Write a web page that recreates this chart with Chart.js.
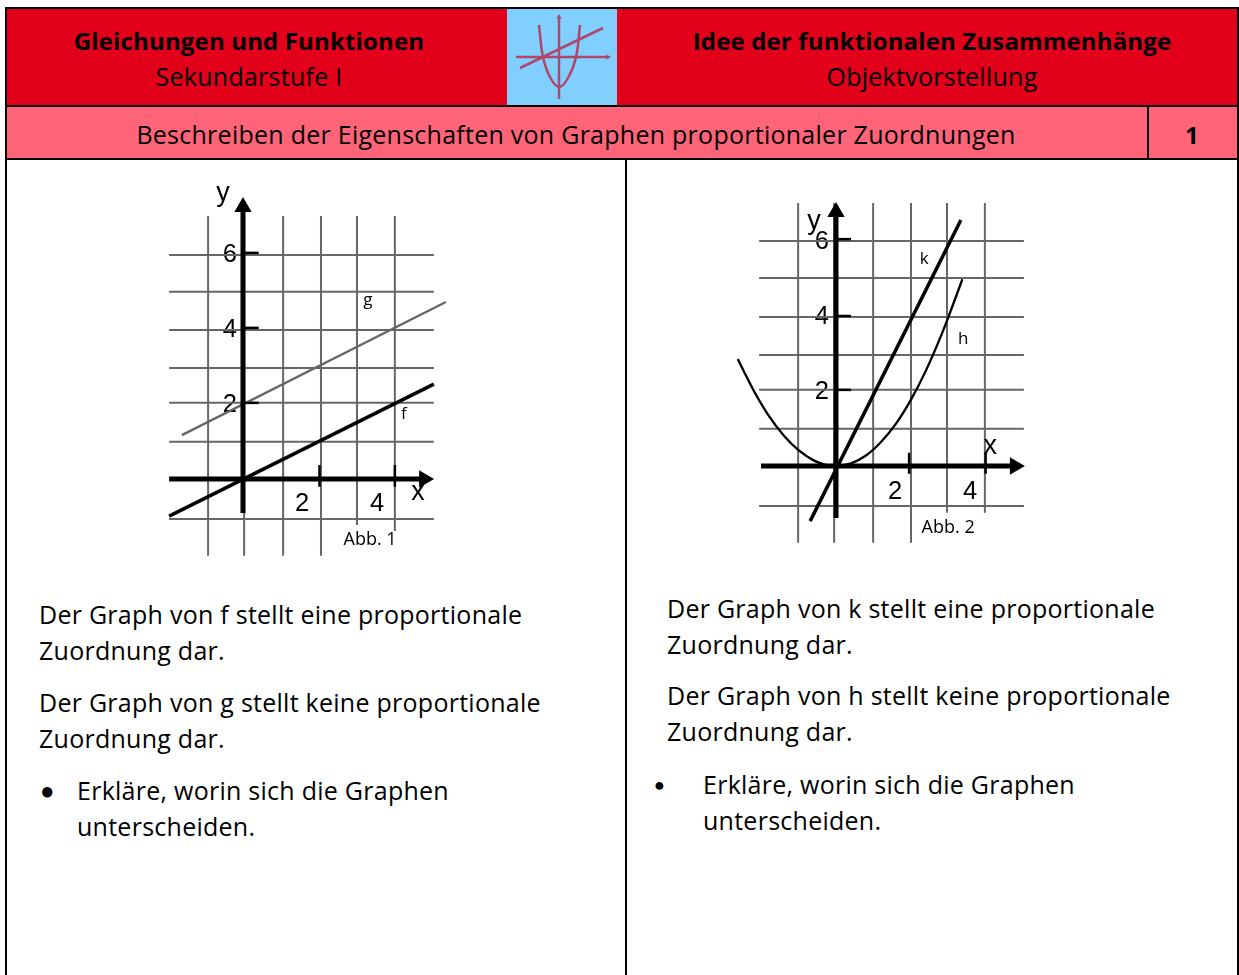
<!DOCTYPE html>
<html lang="de">
<head>
<meta charset="UTF-8">
<title>Beschreiben der Eigenschaften von Graphen proportionaler Zuordnungen</title>
<script src="https://cdn.jsdelivr.net/npm/chart.js"></script>
<style>
    html, body { margin: 0; padding: 0; background: #fff; overflow: hidden; }
    body { width: 1239px; height: 975px; position: relative; font-family: "Open Sans", sans-serif; color: #000; }
    .box { position: absolute; }
    .line { position: absolute; background: #000; }
    .t { position: absolute; white-space: nowrap; font-size: 25px; line-height: 36px; height: 36px; letter-spacing: 0.26px; }
    .c { transform: translateX(-50%); text-align: center; }
    .b { font-weight: 700; font-size: 24px; letter-spacing: 0.15px; }
    canvas { position: absolute; }
</style>
</head>
<body>
    <!-- header bands -->
    <div class="box" style="left:7px;top:9px;width:500px;height:97px;background:#E2001A"></div>
    <div class="box" style="left:507px;top:9px;width:110px;height:97px;background:#80CFFF"></div>
    <div class="box" style="left:617px;top:9px;width:620px;height:97px;background:#E2001A"></div>
    <div class="box" style="left:7px;top:107px;width:1230px;height:51px;background:#FF6478"></div>

    <!-- borders -->
    <div class="line" style="left:5px;top:7px;width:1234px;height:2px"></div>
    <div class="line" style="left:5px;top:7px;width:2px;height:968px"></div>
    <div class="line" style="left:1237px;top:7px;width:2px;height:968px"></div>
    <div class="line" style="left:5px;top:105px;width:1234px;height:2px"></div>
    <div class="line" style="left:5px;top:158px;width:1234px;height:2px"></div>
    <div class="line" style="left:1147px;top:107px;width:2px;height:52px"></div>
    <div class="line" style="left:625px;top:160px;width:2px;height:815px"></div>

    <div class="t c b" style="left:249px;top:23px">Gleichungen und Funktionen</div>
    <div class="t c" style="left:249px;top:58px">Sekundarstufe I</div>
    <div class="t c b" style="left:932px;top:23px">Idee der funktionalen Zusammenhänge</div>
    <div class="t c" style="left:932px;top:58px">Objektvorstellung</div>
    <div class="t c" style="left:576px;top:116px">Beschreiben der Eigenschaften von Graphen proportionaler Zuordnungen</div>
    <div class="t c b" style="left:1192px;top:117px">1</div>

    <canvas id="logo" width="110" height="97" style="left:507px;top:9px"></canvas>
    <canvas id="fig1" width="300" height="390" style="left:160px;top:180px"></canvas>
    <canvas id="fig2" width="310" height="370" style="left:730px;top:190px"></canvas>

    <div class="t" style="left:39px;top:596px">Der Graph von f stellt eine proportionale</div>
    <div class="t" style="left:39px;top:632px">Zuordnung dar.</div>
    <div class="t" style="left:39px;top:684px">Der Graph von g stellt keine proportionale</div>
    <div class="t" style="left:39px;top:720px">Zuordnung dar.</div>
    <div class="t" style="left:40px;top:772px;font-size:24px">●</div>
    <div class="t" style="left:77px;top:772px">Erkläre, worin sich die Graphen</div>
    <div class="t" style="left:77px;top:808px">unterscheiden.</div>

    <div class="t" style="left:654px;top:766px;font-size:18px">●</div>
    <div class="t" style="left:667px;top:590px">Der Graph von k stellt eine proportionale</div>
    <div class="t" style="left:667px;top:626px">Zuordnung dar.</div>
    <div class="t" style="left:667px;top:677px">Der Graph von h stellt keine proportionale</div>
    <div class="t" style="left:667px;top:713px">Zuordnung dar.</div>
    <div class="t" style="left:703px;top:766px">Erkläre, worin sich die Graphen</div>
    <div class="t" style="left:703px;top:802px">unterscheiden.</div>

<script>
    // Abb. 1
    const fig1GridX = [-0.93, 0.03, 1.07, 2.08, 3.04, 4.05];
    const fig1GridXBottom = [-2.05, -2.05, -2.05, -2.05, -1.23, -1.39];
    const fig1GridY = [5.97, 4.99, 3.97, 2.96, 2.03, 0.99, -1.07];
    const fig1LineF = [[-1.97, -0.99], [5.09, 2.53]];
    const fig1LineG = [[-1.63, 1.17], [5.41, 4.72]];
    const fig1TicksX = [2.04, 4.05];
    const fig1TicksY = [6.03, 4.03, 2.03];
    const fig1TickLabelsX = [2, 4];
    const fig1TickLabelsY = [2, 4, 6];

    // Abb. 2
    const fig2GridX = [-1.01, -0.05, 0.99, 2.0, 2.96, 3.97];
    const fig2GridXBottom = [-2.05, -2.05, -2.05, -2.05, -1.25, -1.25];
    const fig2GridY = [6.0, 5.01, 3.97, 2.96, 2.03, 0.99, -1.07];
    const fig2LineK = [[-0.69, -1.47], [3.33, 6.56]];
    const fig2CurveHx = [-2.62, -2.2, -1.8, -1.4, -1.0, -0.6, -0.3, 0, 0.4, 0.8, 1.2, 1.6, 2.0, 2.4, 2.8, 3.0, 3.37];
    const fig2CurveHy = [2.85, 2.02, 1.35, 0.82, 0.42, 0.15, 0.04, 0, 0.07, 0.28, 0.64, 1.13, 1.77, 2.55, 3.47, 3.98, 4.98];
    const fig2TicksX = [1.95, 3.99];
    const fig2TicksY = [6.05, 4.0, 2.03];
    const fig2TickLabelsX = [2, 4];
    const fig2TickLabelsY = [2, 4, 6];

    // small icon in the header
    const logoCurveX = [-20, -16, -9, 0, 9, 17, 21];
    const logoCurveY = [32, 0, -20, -30, -21, 0, 32];
    const logoLine = [[-39, -11], [44, 29]];

    const GRID = "#666666";
    const ARIAL = '"Liberation Sans", Arial, sans-serif';
    const BODY = '"Open Sans", sans-serif';

    // draws the free text that sits inside the plots (names of the graphs etc)
    const notesPlugin = {
        id: "notes",
        afterDatasetsDraw(chart, args, opts) {
            const ctx = chart.ctx;
            ctx.save();
            ctx.fillStyle = "#000";
            ctx.textAlign = "center";
            ctx.textBaseline = "middle";
            (opts.items || []).forEach(n => {
                ctx.font = n.font;
                ctx.fillText(n.text, chart.scales.x.getPixelForValue(n.x), chart.scales.y.getPixelForValue(n.y));
            });
            ctx.restore();
        }
    };

    function seg(points, color, width, order) {
        return {
            data: points.map(p => ({ x: p[0], y: p[1] })),
            showLine: true,
            borderColor: color,
            borderWidth: width,
            pointRadius: 0,
            order: order
        };
    }

    function arrow(from, to, rotation, color, width, size) {
        const d = seg([from, to], color, width, 1);
        d.pointStyle = "triangle";
        d.pointRadius = [0, size];
        d.pointRotation = [0, rotation];
        d.pointBackgroundColor = color;
        d.pointBorderColor = color;
        d.pointBorderWidth = 0;
        return d;
    }

    function gridLines(xs, bottoms, ys, top, left, right) {
        const out = [];
        xs.forEach((x, i) => out.push(seg([[x, bottoms[i]], [x, top]], GRID, 2, 5)));
        ys.forEach(y => out.push(seg([[left, y], [right, y]], GRID, 2, 5)));
        return out;
    }

    function axisOptions(labels, position, min, max, extra) {
        return Object.assign({
            type: "linear",
            min: min,
            max: max,
            position: position,
            border: { display: false },
            grid: { display: false, drawTicks: false },
            afterBuildTicks: scale => { scale.ticks = labels.map(v => ({ value: v })); },
            // the axes cross inside the plot, so they must not eat into the chart area
            afterFit: scale => {
                scale.width = 0;
                scale.height = 0;
                scale.paddingLeft = scale.paddingRight = scale.paddingTop = scale.paddingBottom = 0;
            }
        }, extra);
    }

    function figure(id, datasets, notes, xOpts, yOpts) {
        new Chart(document.getElementById(id), {
            type: "scatter",
            data: { datasets: datasets },
            plugins: [notesPlugin],
            options: {
                responsive: false,
                animation: false,
                layout: { padding: 0, autoPadding: false },
                scales: { x: xOpts, y: yOpts },
                plugins: { legend: { display: false }, tooltip: { enabled: false }, notes: { items: notes } }
            }
        });
    }

    const tickFont = { family: ARIAL, size: 25.5 };
    const smallFont = "17px " + BODY;
    const abbFont = "18px " + BODY;

    figure("fig1",
        [
            ...gridLines(fig1GridX, fig1GridXBottom, fig1GridY, 7.01, -1.97, 5.09),
            seg(fig1LineG, "#666666", 2.3, 3),
            seg(fig1LineF, "#000000", 3.5, 3),
            ...fig1TicksX.map(x => seg([[x, 0.37], [x, -0.21]], "#000000", 2.5, 2)),
            ...fig1TicksY.map(y => seg([[0, y], [0.42, y]], "#000000", 2.5, 2)),
            arrow([-1.97, 0], [4.83, 0], 90, "#000000", 5, 10),
            arrow([0, -0.91], [0, 7.25], 0, "#000000", 5, 10)
        ],
        [
            { text: "y", x: -0.53, y: 7.6, font: "27px " + ARIAL },
            { text: "x", x: 4.67, y: -0.37, font: "27px " + ARIAL },
            { text: "g", x: 3.33, y: 4.77, font: smallFont },
            { text: "f", x: 4.29, y: 1.72, font: smallFont },
            { text: "Abb. 1", x: 3.39, y: -1.63, font: abbFont }
        ],
        axisOptions(fig1TickLabelsX, { y: 0 }, -2.213, 5.787, { ticks: { font: tickFont, color: "#000", padding: 10, labelOffset: -16, maxRotation: 0 } }),
        axisOptions(fig1TickLabelsY, { x: -0.16 }, -2.427, 7.973, { ticks: { font: tickFont, color: "#000", labelOffset: 1 } })
    );

    figure("fig2",
        [
            ...gridLines(fig2GridX, fig2GridXBottom, fig2GridY, 7.01, -2.05, 5.01),
            Object.assign(seg(fig2CurveHx.map((x, i) => [x, fig2CurveHy[i]]), "#000000", 2.3, 3), { tension: 0.4 }),
            seg(fig2LineK, "#000000", 3.5, 3),
            ...fig2TicksX.map(x => seg([[x, 0.35], [x, -0.21]], "#000000", 2.5, 2)),
            ...fig2TicksY.map(y => seg([[0, y], [0.4, y]], "#000000", 2.5, 2)),
            arrow([-2.0, 0], [4.77, 0], 90, "#000000", 5, 10),
            arrow([0, -1.39], [0, 6.77], 0, "#000000", 5, 10)
        ],
        [
            { text: "y", x: -0.59, y: 6.53, font: "27px " + ARIAL },
            { text: "x", x: 4.11, y: 0.53, font: "27px " + ARIAL },
            { text: "k", x: 2.35, y: 5.52, font: smallFont },
            { text: "h", x: 3.39, y: 3.39, font: smallFont },
            { text: "Abb. 2", x: 2.99, y: -1.65, font: abbFont }
        ],
        axisOptions(fig2TickLabelsX, { y: 0 }, -2.827, 5.44, { ticks: { font: tickFont, color: "#000", padding: 11, labelOffset: -16, maxRotation: 0 } }),
        axisOptions(fig2TickLabelsY, { x: -0.19 }, -2.507, 7.36, { ticks: { font: tickFont, color: "#000", labelOffset: 1 } })
    );

    const LOGO = "#B0466A";
    figure("logo",
        [
            arrow([-43, 0], [49, 0], 90, LOGO, 2.5, 3),
            arrow([0, -42], [0, 40], 0, LOGO, 2.5, 3),
            seg(logoLine, LOGO, 2.5, 2),
            Object.assign(seg(logoCurveX.map((x, i) => [x, logoCurveY[i]]), LOGO, 2.5, 2), { tension: 0.4 })
        ],
        [],
        { type: "linear", min: -52, max: 58, display: false },
        { type: "linear", min: -49, max: 48, display: false }
    );
</script>
</body>
</html>
